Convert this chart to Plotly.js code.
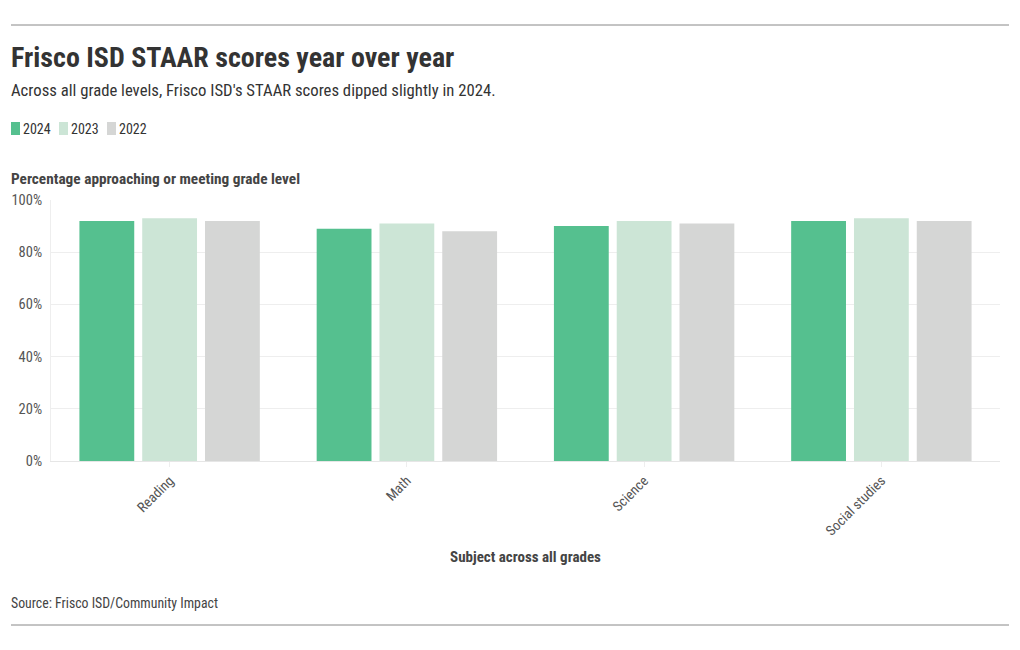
<!DOCTYPE html>
<html>
<head>
<meta charset="utf-8">
<script src="https://cdn.plot.ly/plotly-3.0.1.min.js"></script>
<style>
html,body{margin:0;padding:0;background:#fff;}
#chart{width:1020px;height:650px;}
</style>
</head>
<body>
<div id="chart"></div>
<script>
const subjects = ["Reading", "Math", "Science", "Social studies"];
const years = ["2024", "2023", "2022"];
const scores2024 = [92, 89, 90, 92];
const scores2023 = [93, 91, 92, 93];
const scores2022 = [92, 88, 91, 92];
const colors = ["#55c08f", "#cce5d6", "#d5d6d5"];
const yTickVals = [0, 20, 40, 60, 80, 100];
const yTickText = ["0%", "20%", "40%", "60%", "80%", "100%"];

const FONT = "'Roboto Condensed', 'Liberation Sans Narrow', 'Arial Narrow', Roboto, sans-serif";
const W = 1020, H = 650;
const M = {l: 51, r: 20, t: 200, b: 189};
const pw = W - M.l - M.r, ph = H - M.t - M.b;
const px = x => (x - M.l) / pw;
const py = y => (H - M.b - y) / ph;

const series = [scores2024, scores2023, scores2022];
const traces = series.map((vals, i) => ({
  type: "bar",
  name: years[i],
  x: subjects,
  y: vals,
  marker: {color: colors[i]},
  hoverinfo: "x+y+name"
}));

const annotations = [
  {text: "<b>Frisco ISD STAAR scores year over year</b>", x: px(9), y: py(57), xref: "paper", yref: "paper", xanchor: "left", yanchor: "middle", showarrow: false, font: {family: FONT, size: 28, color: "#333333"}},
  {text: "Across all grade levels, Frisco ISD's STAAR scores dipped slightly in 2024.", x: px(9), y: py(90), xref: "paper", yref: "paper", xanchor: "left", yanchor: "middle", showarrow: false, font: {family: FONT, size: 16.7, color: "#333333"}},
  {text: "<b>Percentage approaching or meeting grade level</b>", x: px(9), y: py(179), xref: "paper", yref: "paper", xanchor: "left", yanchor: "middle", showarrow: false, font: {family: FONT, size: 15.3, color: "#444444"}},
  {text: "Source: Frisco ISD/Community Impact", x: px(9), y: py(603), xref: "paper", yref: "paper", xanchor: "left", yanchor: "middle", showarrow: false, font: {family: FONT, size: 13.8, color: "#444444"}}
];

const shapes = [
  {type: "line", xref: "paper", yref: "paper", x0: px(11), x1: px(1009), y0: py(25), y1: py(25), line: {color: "#888888", width: 1}},
  {type: "line", xref: "paper", yref: "paper", x0: px(11), x1: px(1009), y0: py(625), y1: py(625), line: {color: "#888888", width: 1}}
];

// custom legend built from years/colors
const legendX = [11, 59, 107];
years.forEach((yr, i) => {
  const x0 = legendX[i];
  shapes.push({type: "rect", xref: "paper", yref: "paper", x0: px(x0), x1: px(x0 + 9), y0: py(122), y1: py(135), fillcolor: colors[i], line: {width: 0}});
  annotations.push({text: yr, x: px(x0 + 10), y: py(129), xref: "paper", yref: "paper", xanchor: "left", yanchor: "middle", showarrow: false, font: {family: FONT, size: 14, color: "#333333"}});
});

const layout = {
  width: W, height: H,
  margin: M,
  paper_bgcolor: "#ffffff",
  plot_bgcolor: "#ffffff",
  font: {family: FONT, color: "#555555", size: 14},
  showlegend: false,
  barmode: "group",
  bargap: 0.206,
  bargroupgap: 0.127,
  xaxis: {
    tickangle: -45,
    tickfont: {family: FONT, size: 14, color: "#555555"},
    ticks: "outside", ticklen: 5, tickcolor: "#eeeeee",
    showline: true, linecolor: "#e6e6e6",
    title: {text: "<b>Subject across all grades</b>", font: {family: FONT, size: 15, color: "#444444"}, standoff: 13},
    automargin: false
  },
  yaxis: {
    range: [0, 100],
    tickvals: yTickVals,
    ticktext: yTickText,
    tickfont: {family: FONT, size: 14.5, color: "#555555"},
    ticklabelstandoff: 5,
    gridcolor: "#eeeeee",
    zeroline: false,
    showline: true, linecolor: "#eeeeee",
    automargin: false
  },
  annotations: annotations,
  shapes: shapes
};

Plotly.newPlot("chart", traces, layout, {displayModeBar: false, staticPlot: true});
</script>
</body>
</html>
